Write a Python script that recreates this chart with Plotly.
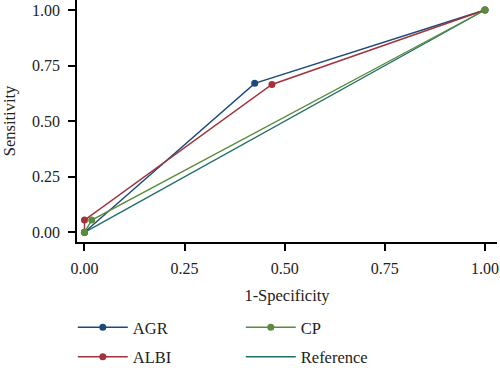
import plotly.graph_objects as go

agr_x = [0, 0.425, 1]
agr_y = [0, 0.67, 1]
albi_x = [0, 0, 0.468, 1]
albi_y = [0, 0.055, 0.665, 1]
cp_x = [0, 0.018, 1]
cp_y = [0, 0.055, 1]
ref_x = [0, 1]
ref_y = [0, 1]
x_ticks = [0, 0.25, 0.5, 0.75, 1.0]
x_ticklabels = ["0.00", "0.25", "0.50", "0.75", "1.00"]
y_ticks = [0, 0.25, 0.5, 0.75, 1.0]
y_ticklabels = ["0.00", "0.25", "0.50", "0.75", "1.00"]

C_AGR = "#1b4a7a"
C_ALBI = "#a0333b"
C_CP = "#5b8c3c"
C_REF = "#1e6e6c"

FONT = "Liberation Serif"
FS = 16

fig = go.Figure()
fig.add_trace(go.Scatter(x=ref_x, y=ref_y, mode="lines", name="Reference",
                         line=dict(color=C_REF, width=1.4), legend="legend2",
                         legendgroup="ref", legendrank=2))
fig.add_trace(go.Scatter(x=agr_x, y=agr_y, mode="lines+markers", name="AGR",
                         line=dict(color=C_AGR, width=1.4),
                         marker=dict(size=7, color=C_AGR), legend="legend",
                         legendgroup="agr", legendrank=1))
fig.add_trace(go.Scatter(x=albi_x, y=albi_y, mode="lines+markers", name="ALBI",
                         line=dict(color=C_ALBI, width=1.4),
                         marker=dict(size=7, color=C_ALBI), legend="legend",
                         legendgroup="albi", legendrank=2))
fig.add_trace(go.Scatter(x=cp_x, y=cp_y, mode="lines+markers", name="CP",
                         line=dict(color=C_CP, width=1.4),
                         marker=dict(size=7, color=C_CP), legend="legend2",
                         legendgroup="cp", legendrank=1))

axis_common = dict(showgrid=False, zeroline=False, showline=True, linecolor="black",
                   linewidth=1.5, ticks="outside", ticklen=7, tickwidth=1.5,
                   tickcolor="black", automargin=False, ticklabeloverflow="allow",
                   tickfont=dict(family=FONT, size=FS, color="#222"))

leg_common = dict(orientation="v", yanchor="top", xanchor="left",
                  itemwidth=50, tracegroupgap=5,
                  font=dict(family=FONT, size=16.5, color="#222"),
                  bgcolor="rgba(0,0,0,0)")

fig.update_layout(
    width=500, height=368,
    margin=dict(l=77, r=3, t=0, b=126, autoexpand=False),
    paper_bgcolor="white", plot_bgcolor="white",
    font=dict(family=FONT, size=FS, color="#222"),
    xaxis=dict(range=[-0.0187, 1.03], tickvals=x_ticks, ticktext=x_ticklabels,
               ticklabelstandoff=4,
               title=dict(text="1-Specificity", font=dict(family=FONT, size=16.5), standoff=13),
               **axis_common),
    yaxis=dict(range=[-0.0436, 1.045], tickvals=y_ticks, ticktext=y_ticklabels,
               ticklabelstandoff=5,
               title=dict(text="Sensitivity", font=dict(family=FONT, size=16.5), standoff=20),
               **axis_common),
    legend=dict(x=-0.010, y=-0.281, **leg_common),
    legend2=dict(x=0.390, y=-0.281, **leg_common),
    showlegend=True,
)

fig.write_html("out.html", config={"displayModeBar": False},
               post_script="document.body.style.margin='0px';document.body.style.overflow='hidden';")
